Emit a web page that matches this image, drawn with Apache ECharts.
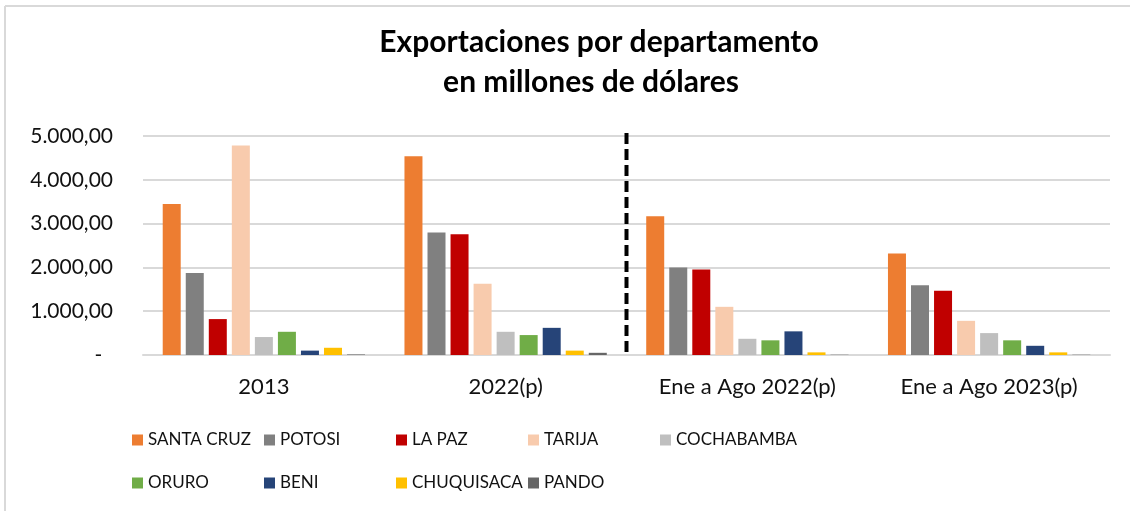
<!DOCTYPE html>
<html>
<head>
<meta charset="utf-8">
<script src="https://cdn.jsdelivr.net/npm/echarts@6/dist/echarts.min.js"></script>
<style>
  html, body { margin: 0; padding: 0; background: #fff; }
  #chart { width: 1130px; height: 511px; }
</style>
</head>
<body>
<div id="chart"></div>
<script>
var categories = ['2013', '2022(p)', 'Ene a Ago 2022(p)', 'Ene a Ago 2023(p)']
var departamentos = ['SANTA CRUZ', 'POTOSI', 'LA PAZ', 'TARIJA', 'COCHABAMBA', 'ORURO', 'BENI', 'CHUQUISACA', 'PANDO']
var santaCruz = [3450, 4540, 3165, 2315]
var potosi = [1870, 2795, 1995, 1595]
var laPaz = [820, 2755, 1950, 1465]
var tarija = [4785, 1625, 1100, 780]
var cochabamba = [410, 530, 370, 500]
var oruro = [530, 455, 335, 335]
var beni = [100, 620, 540, 210]
var chuquisaca = [165, 100, 60, 60]
var pando = [12, 50, 6, 6]
var yTicks = [0, 1000, 2000, 3000, 4000, 5000]
// dashed separator between the yearly and Jan-Aug groups (x in category units)
var divider = [[2, 70], [2, 5070]]

var valores = [santaCruz, potosi, laPaz, tarija, cochabamba, oruro, beni, chuquisaca, pando]
var colores = ['#ED7D31', '#808080', '#C00000', '#F8CBAD', '#BFBFBF', '#70AD47', '#264478', '#FFC000', '#666666']
var fuente = 'Lato, "Noto Sans", sans-serif'

function formatoMiles(v) {
  if (v === 0) return '-  '
  var s = String(Math.round(v)).replace(/\B(?=(\d{3})+(?!\d))/g, '.')
  return s + ',00'
}

var myChart = echarts.init(document.getElementById('chart'))

var series = departamentos.map(function (name, i) {
  return {
    name: name,
    type: 'bar',
    barWidth: 18,
    barGap: '28%',
    itemStyle: { color: colores[i] },
    data: valores[i]
  }
})
series.push({
  name: 'divisor',
  type: 'line',
  xAxisIndex: 1,
  clip: false,
  symbol: 'none',
  silent: true,
  lineStyle: { color: '#000', width: 4, type: [11, 5] },
  data: divider
})

// legend laid out as a 5-column grid like the original
var legends = departamentos.map(function (name, i) {
  var col = i < 5 ? i : i - 5
  var row = i < 5 ? 0 : 1
  return {
    data: [name],
    left: 132 + col * 132,
    top: row === 0 ? 430 : 473,
    padding: 0,
    icon: 'rect',
    itemWidth: 11,
    itemHeight: 11,
    textStyle: { fontFamily: fuente, fontSize: 17, lineHeight: 20, color: '#111' }
  }
})

var tituloStyle = { fontFamily: fuente, fontSize: 30, fontWeight: 'bold', color: '#000' }

var option = {
  animation: false,
  textStyle: { fontFamily: fuente },
  title: [
    { text: 'Exportaciones por departamento', left: 594, top: 22, textAlign: 'center', textStyle: tituloStyle },
    { text: 'en millones de dólares', left: 586, top: 62, textAlign: 'center', textStyle: tituloStyle }
  ],
  legend: legends,
  grid: { left: 143, right: 20, top: 136, bottom: 156 },
  xAxis: [
    {
      type: 'category',
      data: categories,
      axisTick: { show: false },
      axisLine: { lineStyle: { color: '#d9d9d9', width: 2 } },
      axisLabel: { fontFamily: fuente, fontSize: 22, color: '#111', margin: 21 }
    },
    {
      type: 'value',
      min: 0,
      max: 4,
      show: false
    }
  ],
  yAxis: {
    type: 'value',
    min: yTicks[0],
    max: yTicks[yTicks.length - 1],
    interval: 1000,
    axisLine: { show: false },
    axisTick: { show: false },
    splitLine: { lineStyle: { color: '#d9d9d9', width: 2 } },
    axisLabel: { fontFamily: fuente, fontSize: 21, color: '#111', margin: 30, formatter: formatoMiles }
  },
  graphic: [
    { type: 'line', shape: { x1: 5, y1: 6, x2: 1130, y2: 6 }, style: { stroke: '#d9d9d9', lineWidth: 2 } },
    { type: 'line', shape: { x1: 5, y1: 6, x2: 5, y2: 511 }, style: { stroke: '#d9d9d9', lineWidth: 2 } }
  ],
  series: series
}
myChart.setOption(option)
</script>
</body>
</html>
